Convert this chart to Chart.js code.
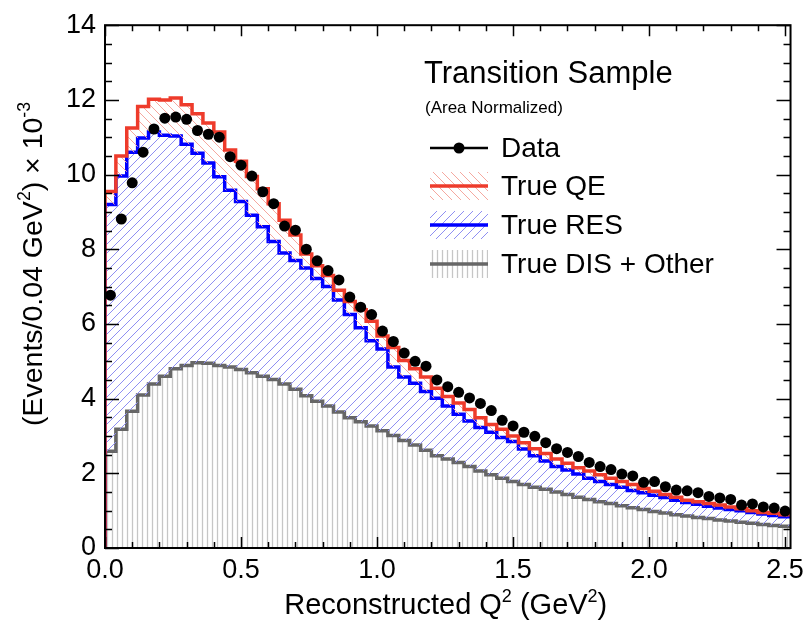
<!DOCTYPE html>
<html>
<head>
<meta charset="utf-8">
<script src="https://cdn.jsdelivr.net/npm/chart.js@4/dist/chart.umd.min.js"></script>
<style>
  html, body { margin: 0; padding: 0; background: #fff; }
  #wrap { width: 810px; height: 622px; }
</style>
</head>
<body>
<div id="wrap"><canvas id="q2Chart" width="810" height="622"></canvas></div>
<script>
// histogram bin width (GeV^2), bins start at 0
var binWidth = 0.04;
var xTickValues = [0.0, 0.5, 1.0, 1.5, 2.0, 2.5];
var yTickValues = [0, 2, 4, 6, 8, 10, 12, 14];

// data points, one per bin (x 10^-3)
var dataValues = [6.77, 8.81, 9.78, 10.6, 11.22, 11.51, 11.54, 11.48, 11.18, 11.08,
    11.0, 10.48, 10.25, 9.96, 9.54, 9.22, 8.62, 8.51, 8.0, 7.69,
    7.43, 7.18, 6.72, 6.45, 6.25, 5.81, 5.53, 5.22, 5.0, 4.87,
    4.5, 4.32, 4.17, 4.02, 3.87, 3.68, 3.42, 3.27, 3.10, 2.99,
    2.82, 2.66, 2.56, 2.45, 2.29, 2.18, 2.10, 1.98, 1.93, 1.76,
    1.78, 1.64, 1.55, 1.53, 1.48, 1.38, 1.34, 1.30, 1.15, 1.18,
    1.10, 1.07, 0.99];

// stacked MC: top of QE (= total), top of RES, top of DIS + Other
var qeStack = [9.55, 10.5, 11.25, 11.82, 12.02, 12.0, 12.05, 11.87, 11.63, 11.38,
    11.14, 10.66, 10.36, 9.95, 9.62, 9.22, 8.78, 8.38, 7.87, 7.56,
    7.30, 6.90, 6.60, 6.38, 6.07, 5.68, 5.37, 5.02, 4.80, 4.58,
    4.28, 4.06, 3.88, 3.71, 3.49, 3.31, 3.18, 3.0, 2.82, 2.66,
    2.53, 2.38, 2.27, 2.15, 2.06, 1.96, 1.87, 1.78, 1.70, 1.59,
    1.52, 1.43, 1.36, 1.28, 1.24, 1.19, 1.15, 1.10, 1.05, 1.00,
    0.95, 0.93, 0.89];
var resStack = [9.20, 9.96, 10.60, 10.98, 11.14, 11.05, 11.03, 10.81, 10.57, 10.31,
    9.94, 9.58, 9.28, 8.91, 8.60, 8.21, 7.90, 7.70, 7.50, 7.22,
    7.00, 6.64, 6.25, 5.90, 5.55, 5.33, 4.85, 4.58, 4.41, 4.19,
    4.01, 3.80, 3.58, 3.40, 3.23, 3.10, 2.96, 2.85, 2.65, 2.47,
    2.33, 2.18, 2.09, 1.98, 1.87, 1.78, 1.70, 1.63, 1.54, 1.48,
    1.41, 1.35, 1.28, 1.22, 1.17, 1.12, 1.07, 1.03, 1.00, 0.95,
    0.91, 0.87, 0.84];
var disStack = [2.59, 3.18, 3.66, 4.10, 4.39, 4.60, 4.80, 4.89, 4.96, 4.95,
    4.89, 4.85, 4.78, 4.69, 4.60, 4.51, 4.39, 4.25, 4.08, 3.93,
    3.80, 3.64, 3.49, 3.38, 3.27, 3.14, 3.01, 2.88, 2.76, 2.62,
    2.47, 2.38, 2.29, 2.18, 2.06, 1.96, 1.87, 1.78, 1.70, 1.63,
    1.57, 1.50, 1.43, 1.36, 1.30, 1.24, 1.19, 1.13, 1.08, 1.03,
    0.98, 0.94, 0.89, 0.86, 0.82, 0.79, 0.75, 0.72, 0.69, 0.66,
    0.63, 0.60, 0.58];

var FONT = "'Liberation Sans', Arial, Helvetica, sans-serif";
var redCol = "#ee3b2b";
var blueCol = "#0000ff";
var grayCol = "#666666";

function hatch(color, kind, size, lw) {
    var c = document.createElement("canvas");
    c.width = size; c.height = size;
    var g = c.getContext("2d");
    g.strokeStyle = color;
    g.lineWidth = lw;
    g.beginPath();
    if (kind == "v") {
        g.moveTo(size / 2, 0); g.lineTo(size / 2, size);
    } else {
        for (var k = -1; k <= 1; k++) {
            if (kind == "fwd") { g.moveTo(k * size, size); g.lineTo(k * size + size, 0); }
            else { g.moveTo(k * size, 0); g.lineTo(k * size + size, size); }
        }
    }
    g.stroke();
    return g.createPattern(c, "repeat");
}

var ctx0 = document.getElementById("q2Chart").getContext("2d");
var qeHatch = hatch("#f5a89f", "back", 9, 1);
var resHatch = hatch("#8f8ff2", "fwd", 9, 1);
var disHatch = hatch("#c6c6c6", "v", 5, 1.3);

function histPoints(vals) {
    var pts = [{ x: 0, y: 0 }];
    for (var i = 0; i < vals.length; i++) {
        pts.push({ x: i * binWidth, y: vals[i] });
    }
    pts.push({ x: vals.length * binWidth, y: vals[vals.length - 1] });
    return pts;
}

function dataPoints(vals) {
    var pts = [];
    for (var i = 0; i < vals.length; i++) {
        pts.push({ x: (i + 0.5) * binWidth, y: vals[i] });
    }
    return pts;
}

// text with superscripts, parts = [[text, isSup], ...]
function richText(ctx, parts, x, y, size, align) {
    var total = 0, widths = [];
    parts.forEach(function (p) {
        ctx.font = (p[1] ? size * 0.62 : size) + "px " + FONT;
        var w = ctx.measureText(p[0]).width;
        widths.push(w); total += w;
    });
    var cx = align == "center" ? x - total / 2 : x;
    parts.forEach(function (p, i) {
        ctx.font = (p[1] ? size * 0.62 : size) + "px " + FONT;
        ctx.fillText(p[0], cx, p[1] ? y - size * 0.42 : y);
        cx += widths[i];
    });
}

var framePlugin = {
    id: "frame",
    afterDraw: function (chart) {
        var ctx = chart.ctx, a = chart.chartArea;
        var xs = chart.scales.x, ys = chart.scales.y;
        ctx.save();
        ctx.strokeStyle = "#000";
        ctx.lineWidth = 1.5;
        ctx.beginPath();
        // x ticks every 0.1, y ticks every 0.5 (inside the frame)
        for (var i = 0; i <= 25; i++) {
            var px = Math.round(xs.getPixelForValue(i * 0.1)) + 0.5;
            var len = (i % 5 == 0) ? 11 : 6;
            ctx.moveTo(px, a.bottom); ctx.lineTo(px, a.bottom - len);
            ctx.moveTo(px, a.top); ctx.lineTo(px, a.top + len);
        }
        for (var j = 0; j <= 28; j++) {
            var py = Math.round(ys.getPixelForValue(j * 0.5)) + 0.5;
            var ln = (j % 4 == 0) ? 14 : 7;
            ctx.moveTo(a.left, py); ctx.lineTo(a.left + ln, py);
            ctx.moveTo(a.right, py); ctx.lineTo(a.right - ln, py);
        }
        ctx.stroke();
        ctx.lineWidth = 2;
        ctx.strokeRect(a.left, a.top, a.right - a.left, a.bottom - a.top);

        // axis titles
        ctx.fillStyle = "#000";
        ctx.textBaseline = "alphabetic";
        richText(ctx, [["Reconstructed Q", false], ["2", true], [" (GeV", false], ["2", true], [")", false]],
            (a.left + a.right) / 2 - 2, 614, 29, "center");
        ctx.save();
        ctx.translate(42, 264);
        ctx.rotate(-Math.PI / 2);
        richText(ctx, [["(Events/0.04 GeV", false], ["2", true], [") \u00d7 10", false], ["-3", true]],
            0, 0, 28.5, "center");
        ctx.restore();

        // legend
        ctx.font = "31px " + FONT;
        ctx.fillText("Transition Sample", 424, 83);
        ctx.font = "17px " + FONT;
        ctx.fillText("(Area Normalized)", 425, 113);

        var bx = 430, bw = 58, bh = 28;
        var rows = [
            { y: 148, label: "Data" },
            { y: 186, label: "True QE", pat: qeHatch, col: redCol },
            { y: 225, label: "True RES", pat: resHatch, col: blueCol },
            { y: 264, label: "True DIS + Other", pat: disHatch, col: grayCol }
        ];
        rows.forEach(function (r) {
            if (r.pat) {
                ctx.fillStyle = r.pat;
                ctx.fillRect(bx, r.y - bh / 2, bw, bh);
                ctx.strokeStyle = r.col;
                ctx.lineWidth = 3.5;
                ctx.beginPath(); ctx.moveTo(bx, r.y); ctx.lineTo(bx + bw, r.y); ctx.stroke();
            } else {
                ctx.strokeStyle = "#000";
                ctx.lineWidth = 2.5;
                ctx.beginPath(); ctx.moveTo(bx, r.y); ctx.lineTo(bx + bw, r.y); ctx.stroke();
                ctx.fillStyle = "#000";
                ctx.beginPath(); ctx.arc(bx + bw / 2, r.y, 5.5, 0, Math.PI * 2); ctx.fill();
            }
            ctx.fillStyle = "#000";
            ctx.font = "28px " + FONT;
            ctx.textBaseline = "middle";
            ctx.fillText(r.label, 501, r.y + 1);
            ctx.textBaseline = "alphabetic";
        });
        ctx.restore();
    }
};

new Chart(ctx0, {
    type: "line",
    data: {
        datasets: [{
            label: "Data",
            data: dataPoints(dataValues),
            showLine: false,
            pointRadius: 5.5,
            pointHoverRadius: 5.5,
            pointBackgroundColor: "#000",
            pointBorderColor: "#000",
            pointBorderWidth: 0
        }, {
            label: "True QE",
            data: histPoints(qeStack),
            stepped: true,
            borderColor: redCol,
            borderWidth: 3.5,
            pointRadius: 0,
            backgroundColor: qeHatch,
            fill: { target: 2 }
        }, {
            label: "True RES",
            data: histPoints(resStack),
            stepped: true,
            borderColor: blueCol,
            borderWidth: 3.5,
            pointRadius: 0,
            backgroundColor: resHatch,
            fill: { target: 3 }
        }, {
            label: "True DIS + Other",
            data: histPoints(disStack),
            stepped: true,
            borderColor: grayCol,
            borderWidth: 3.5,
            pointRadius: 0,
            backgroundColor: disHatch,
            fill: "origin"
        }]
    },
    options: {
        responsive: false,
        animation: false,
        devicePixelRatio: 1,
        layout: { padding: { left: 0, top: 14, right: 18, bottom: 0 } },
        plugins: {
            legend: { display: false },
            tooltip: { enabled: false }
        },
        scales: {
            x: {
                type: "linear",
                min: 0,
                max: 2.52,
                afterFit: function (s) { s.height = 74; },
                afterBuildTicks: function (s) {
                    s.ticks = xTickValues.map(function (v) { return { value: v }; });
                },
                grid: { display: false, drawTicks: false },
                border: { display: false },
                ticks: {
                    padding: 6,
                    color: "#000",
                    maxRotation: 0,
                    font: { family: FONT, size: 27 },
                    callback: function (v) { return Number(v).toFixed(1); }
                }
            },
            y: {
                min: 0,
                max: 14,
                afterFit: function (s) { s.width = 105; },
                afterBuildTicks: function (s) {
                    s.ticks = yTickValues.map(function (v) { return { value: v }; });
                },
                grid: { display: false, drawTicks: false },
                border: { display: false },
                ticks: {
                    padding: 9,
                    color: "#000",
                    font: { family: FONT, size: 27 }
                }
            }
        }
    },
    plugins: [framePlugin]
});
</script>
</body>
</html>
